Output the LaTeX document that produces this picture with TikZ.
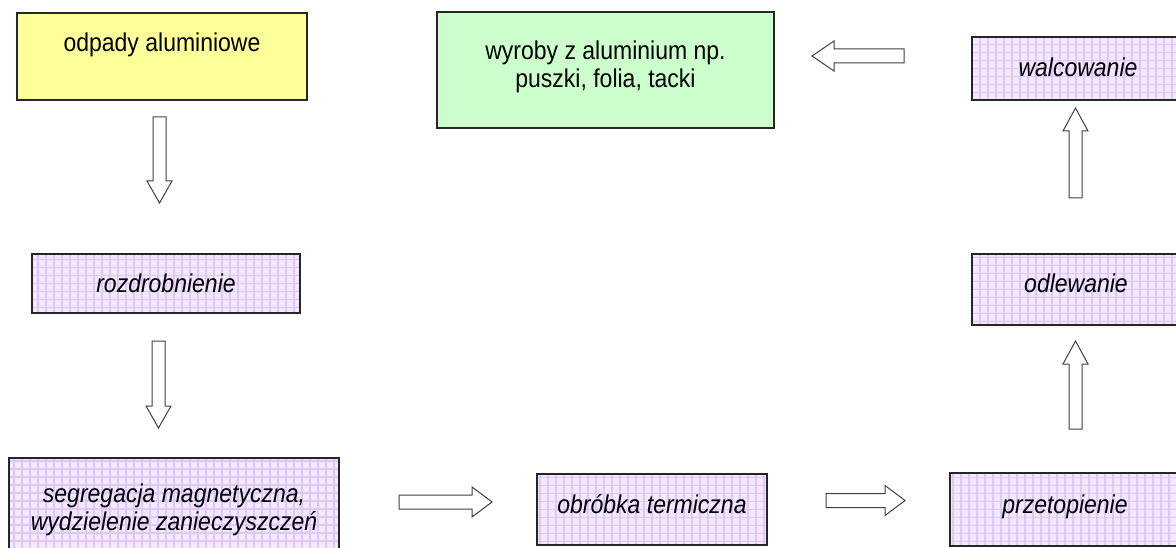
\documentclass[tikz,border=0pt]{standalone}
\usepackage{fontspec}
\setmainfont{Liberation Sans}
\definecolor{lav}{HTML}{F3E8FF}
\definecolor{lavgrid}{HTML}{DEC8FA}
\definecolor{yel}{HTML}{FFFF99}
\definecolor{grn}{HTML}{CCFFCC}
\tikzset{
  box/.style={draw=black!85, line width=1.1pt, inner sep=0pt, rectangle},
  lavbox/.style={box, fill=lav, path picture={\draw[lavgrid, line width=1.2pt] ([xshift=-3pt,yshift=-3pt]path picture bounding box.south west) grid[step=8pt] (path picture bounding box.north east);}},
  lbl/.style={font=\fontsize{23}{25}\selectfont, inner sep=0pt, align=center, yscale=1.12, transform shape},
  ilbl/.style={lbl, font=\fontsize{23}{25}\selectfont\itshape},
  arr/.style={draw=black!75, line width=1pt, fill=white, line join=miter},
  pics/arrdown/.style={code={\draw[arr] (-6.5,0) -- (6.5,0) -- (6.5,#1-22) -- (12.5,#1-22) -- (0,#1) -- (-12.5,#1-22) -- (-6.5,#1-22) -- cycle;}},
  pics/arrup/.style={code={\draw[arr] (-6.5,0) -- (6.5,0) -- (6.5,23-#1) -- (12.5,23-#1) -- (0,-#1) -- (-12.5,23-#1) -- (-6.5,23-#1) -- cycle;}},
  pics/arrright/.style={code={\draw[arr] (0,-7) -- (#1-20,-7) -- (#1-20,-15) -- (#1,0) -- (#1-20,15) -- (#1-20,7) -- (0,7) -- cycle;}},
  pics/arrleft/.style={code={\draw[arr] (0,-7) -- (22-#1,-7) -- (22-#1,-15) -- (-#1,0) -- (22-#1,15) -- (22-#1,7) -- (0,7) -- cycle;}},
}
\begin{document}
\begin{tikzpicture}[x=1pt,y=-1pt]
\useasboundingbox (0,0) rectangle (1176,548);
\clip (0,0) rectangle (1176,548);
\fill[white] (0,0) rectangle (1176,548);
% boxes
\node[box, fill=yel, minimum width=290pt, minimum height=87pt] (odpady) at (162,56.5) {};
\node[box, fill=grn, minimum width=337pt, minimum height=116pt] (wyroby) at (605.5,70) {};
\node[lavbox, minimum width=208pt, minimum height=63pt] (walc) at (1076,68.5) {};
\node[lavbox, minimum width=268pt, minimum height=59pt] (rozd) at (166,283.5) {};
\node[lavbox, minimum width=208pt, minimum height=71pt] (odlew) at (1076,289.5) {};
\node[lavbox, minimum width=330pt, minimum height=102pt] (segr) at (174,509) {};
\node[lavbox, minimum width=230pt, minimum height=71pt] (obrob) at (652,509.5) {};
\node[lavbox, minimum width=230pt, minimum height=73pt] (przet) at (1065,509.5) {};
% labels
\node[lbl, anchor=base] (t1) at (162,52) {odpady aluminiowe};
\node[lbl] (t2) at (605.5,66.5) {wyroby z aluminium np.\\puszki, folia, tacki};
\node[ilbl, anchor=base] (t3) at (1078,77) {walcowanie};
\node[ilbl, anchor=base] (t4) at (166,293) {rozdrobnienie};
\node[ilbl, anchor=base] (t5) at (1076,293) {odlewanie};
\node[ilbl] (t6) at (174,510) {segregacja magnetyczna,\\wydzielenie zanieczyszczeń};
\node[ilbl, anchor=base] (t7) at (652,513) {obróbka termiczna};
\node[ilbl, anchor=base] (t8) at (1065,513) {przetopienie};
% arrows
\coordinate (a1) at (159.5,117);
\coordinate (a2) at (158.5,341);
\coordinate (a3) at (399,502);
\coordinate (a4) at (826,500.5);
\coordinate (a5) at (1075.5,429);
\coordinate (a6) at (1075.5,198);
\coordinate (a7) at (904,56);
\pic at (a1) {arrdown=86};
\pic at (a2) {arrdown=87};
\pic at (a3) {arrright=93};
\pic at (a4) {arrright=79};
\pic at (a5) {arrup=88};
\pic at (a6) {arrup=90};
\pic at (a7) {arrleft=92};
\end{tikzpicture}
\end{document}
